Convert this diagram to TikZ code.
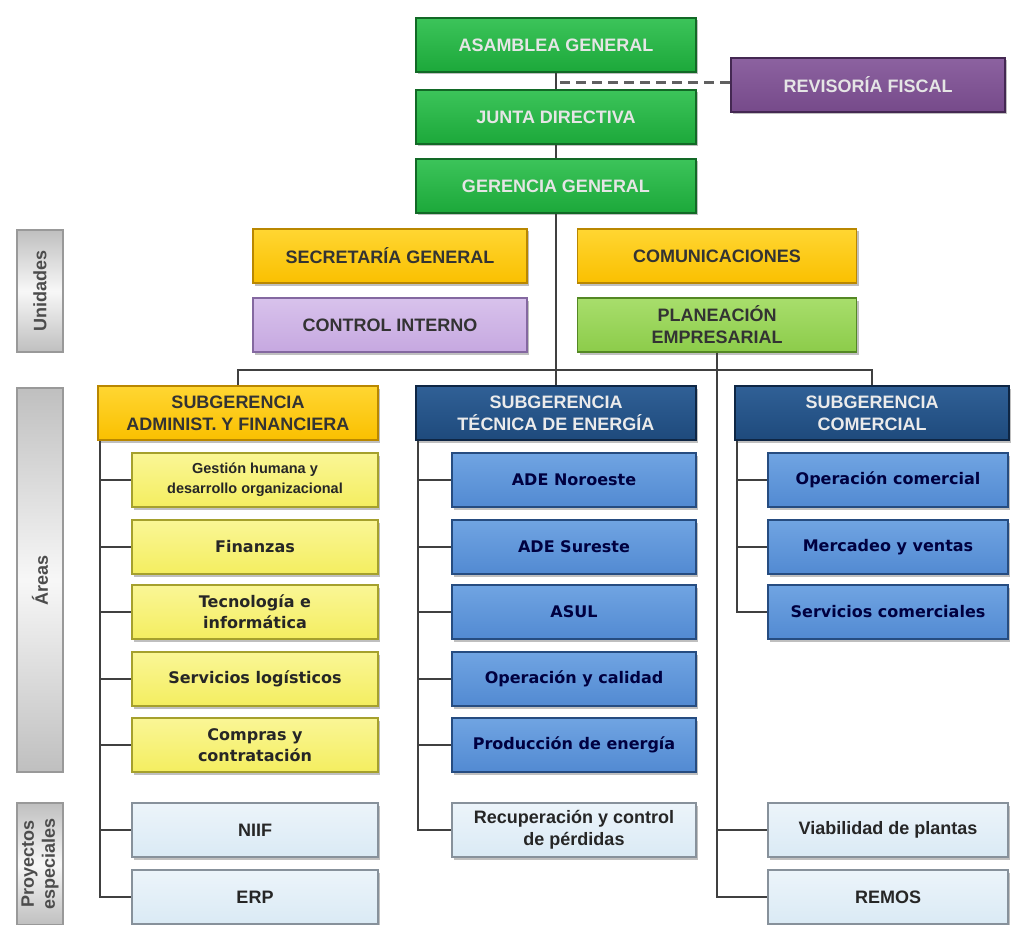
\documentclass[tikz,border=0pt]{standalone}
\usepackage{fontspec}
\setmainfont{Liberation Sans}
\newfontfamily\tahfont{DejaVu Sans}
\usetikzlibrary{shadows}

\definecolor{grn}{RGB}{28,168,58}
\definecolor{grnlt}{RGB}{60,196,90}
\definecolor{grndk}{RGB}{18,105,38}
\definecolor{purp}{RGB}{118,74,138}
\definecolor{purplt}{RGB}{140,98,160}
\definecolor{purpdk}{RGB}{68,40,82}
\definecolor{gold}{RGB}{250,192,0}
\definecolor{goldlt}{RGB}{255,214,50}
\definecolor{golddk}{RGB}{185,135,0}
\definecolor{lilac}{RGB}{198,168,224}
\definecolor{lilaclt}{RGB}{216,194,236}
\definecolor{lilacdk}{RGB}{132,104,160}
\definecolor{lime}{RGB}{140,204,74}
\definecolor{limelt}{RGB}{168,222,108}
\definecolor{limedk}{RGB}{84,136,36}
\definecolor{navy}{RGB}{30,74,124}
\definecolor{navylt}{RGB}{48,96,150}
\definecolor{navydk}{RGB}{14,38,68}
\definecolor{yel}{RGB}{244,238,96}
\definecolor{yellt}{RGB}{250,246,150}
\definecolor{yeldk}{RGB}{165,160,45}
\definecolor{blu}{RGB}{82,138,210}
\definecolor{blult}{RGB}{112,164,226}
\definecolor{bludk}{RGB}{38,76,128}
\definecolor{pale}{RGB}{218,234,245}
\definecolor{palelt}{RGB}{236,244,250}
\definecolor{paledk}{RGB}{135,145,155}

\begin{document}
\begin{tikzpicture}[x=1pt,y=-1pt,
	box/.style={rectangle, line width=1.2pt, align=center, inner sep=2pt, minimum height=54pt,
		font=\bfseries\fontsize{18}{22}\selectfont,
		drop shadow={shadow xshift=2pt,shadow yshift=-2.5pt,fill=black!50}},
	greenbox/.style={box, minimum width=280pt, top color=grnlt, bottom color=grn, draw=grndk, text=white!90!black},
	purplebox/.style={box, minimum width=274pt, top color=purplt, bottom color=purp, draw=purpdk, text=white!90!black},
	goldbox/.style={box, top color=goldlt, bottom color=gold, draw=golddk, text=black!80},
	lilacbox/.style={box, minimum width=274pt, top color=lilaclt, bottom color=lilac, draw=lilacdk, text=black!80},
	limebox/.style={box, minimum width=279pt, top color=limelt, bottom color=lime, draw=limedk, text=black!80},
	navybox/.style={box, minimum width=280pt, top color=navylt, bottom color=navy, draw=navydk, text=white!92!black},
	yellowbox/.style={box, minimum width=246pt, top color=yellt, bottom color=yel, draw=yeldk, text=black!85,
		font=\tahfont\bfseries\fontsize{16}{21}\selectfont},
	bluebox/.style={box, top color=blult, bottom color=blu, draw=bludk, text=blue!25!black,
		font=\tahfont\bfseries\fontsize{16}{21}\selectfont},
	palebox/.style={box, top color=palelt, bottom color=pale, draw=paledk, text=black!85},
	sidebox/.style={rectangle, rotate=90, minimum height=46pt, line width=1.4pt, align=center,
		top color=gray!50, bottom color=gray!50, middle color=gray!6, draw=gray!80, text=black!70,
		font=\bfseries\fontsize{18}{21}\selectfont},
	line/.style={draw=black!75, line width=1.6pt}]
			\fill[white] (0,0) rectangle (1011,925);
			\useasboundingbox (0,0) rectangle (1011,925);

			\node[greenbox] (asamblea) at (556,45) {ASAMBLEA GENERAL};
			\node[greenbox] (junta) at (556,117) {JUNTA DIRECTIVA};
			\node[greenbox] (gerencia) at (556,186) {GERENCIA GENERAL};
			\node[purplebox] (revisoria) at (868,85) {REVISORÍA FISCAL};

			\node[sidebox, minimum width=122pt] (unidades) at (40,291) {Unidades};
			\node[sidebox, minimum width=384pt] (areas) at (40,580) {Áreas};
			\node[sidebox, minimum width=122pt] (proyectos) at (40,864) {Proyectos\\especiales};

			\node[goldbox, minimum width=274pt] (secretaria) at (390,256) {SECRETARÍA GENERAL};
			\node[goldbox, minimum width=279pt] (comunicaciones) at (717,256) {COMUNICACIONES};
			\node[lilacbox] (control) at (390,325) {CONTROL INTERNO};
			\node[limebox] (planeacion) at (717,325) {PLANEACIÓN\\EMPRESARIAL};

			\node[goldbox, minimum width=280pt] (subadm) at (238,413) {SUBGERENCIA\\ADMINIST. Y FINANCIERA};
			\node[navybox] (subtec) at (556,413) {SUBGERENCIA\\TÉCNICA DE ENERGÍA};
			\node[navybox, minimum width=274pt] (subcom) at (872,413) {SUBGERENCIA\\COMERCIAL};

			\node[yellowbox, font=\bfseries\fontsize{14.5}{20}\selectfont] (gestion) at (255,480) {Gestión humana y\\desarrollo organizacional};
			\node[yellowbox] (finanzas) at (255,547) {Finanzas};
			\node[yellowbox] (tecnologia) at (255,612) {Tecnología e\\informática};
			\node[yellowbox] (logisticos) at (255,679) {Servicios logísticos};
			\node[yellowbox] (compras) at (255,745) {Compras y\\contratación};
			\node[palebox, minimum width=246pt] (niif) at (255,830) {NIIF};
			\node[palebox, minimum width=246pt] (erp) at (255,897) {ERP};

			\node[bluebox, minimum width=244pt] (adenor) at (574,480) {ADE Noroeste};
			\node[bluebox, minimum width=244pt] (adesur) at (574,547) {ADE Sureste};
			\node[bluebox, minimum width=244pt] (asul) at (574,612) {ASUL};
			\node[bluebox, minimum width=244pt] (operacion) at (574,679) {Operación y calidad};
			\node[bluebox, minimum width=244pt] (produccion) at (574,745) {Producción de energía};
			\node[palebox, minimum width=244pt] (recuperacion) at (574,830) {Recuperación y control\\de pérdidas};

			\node[bluebox, minimum width=240pt] (opcom) at (888,480) {Operación comercial};
			\node[bluebox, minimum width=240pt] (mercadeo) at (888,547) {Mercadeo y ventas};
			\node[bluebox, minimum width=240pt] (servcom) at (888,612) {Servicios comerciales};
			\node[palebox, minimum width=240pt] (viabilidad) at (888,830) {Viabilidad de plantas};
			\node[palebox, minimum width=240pt] (remos) at (888,897) {REMOS};

			\coordinate (fiscal) at (560,83);
			\coordinate (bar) at (556,370);
			\coordinate (admline) at (100,441);
			\coordinate (tecline) at (418,441);
			\coordinate (comline) at (737,441);

			\draw[line] (asamblea) -- (junta);
			\draw[line] (junta) -- (gerencia);
			\draw[line] (gerencia) -- (subtec);
			\draw[line] (subadm.north) |- (bar) -| (subcom.north);
			\draw[line, draw=gray!75!black, line width=3pt, dash pattern=on 10pt off 6pt] (fiscal) -- (fiscal -| revisoria.west);

			\draw[line] (admline) |- (gestion.west);
			\draw[line] (admline) |- (finanzas.west);
			\draw[line] (admline) |- (tecnologia.west);
			\draw[line] (admline) |- (logisticos.west);
			\draw[line] (admline) |- (compras.west);
			\draw[line] (admline) |- (niif.west);
			\draw[line] (admline) |- (erp.west);

			\draw[line] (tecline) |- (adenor.west);
			\draw[line] (tecline) |- (adesur.west);
			\draw[line] (tecline) |- (asul.west);
			\draw[line] (tecline) |- (operacion.west);
			\draw[line] (tecline) |- (produccion.west);
			\draw[line] (tecline) |- (recuperacion.west);

			\draw[line] (comline) |- (opcom.west);
			\draw[line] (comline) |- (mercadeo.west);
			\draw[line] (comline) |- (servcom.west);

			\draw[line] (planeacion.south) |- (viabilidad.west);
			\draw[line] (planeacion.south) |- (remos.west);
		\end{tikzpicture}
\end{document}
